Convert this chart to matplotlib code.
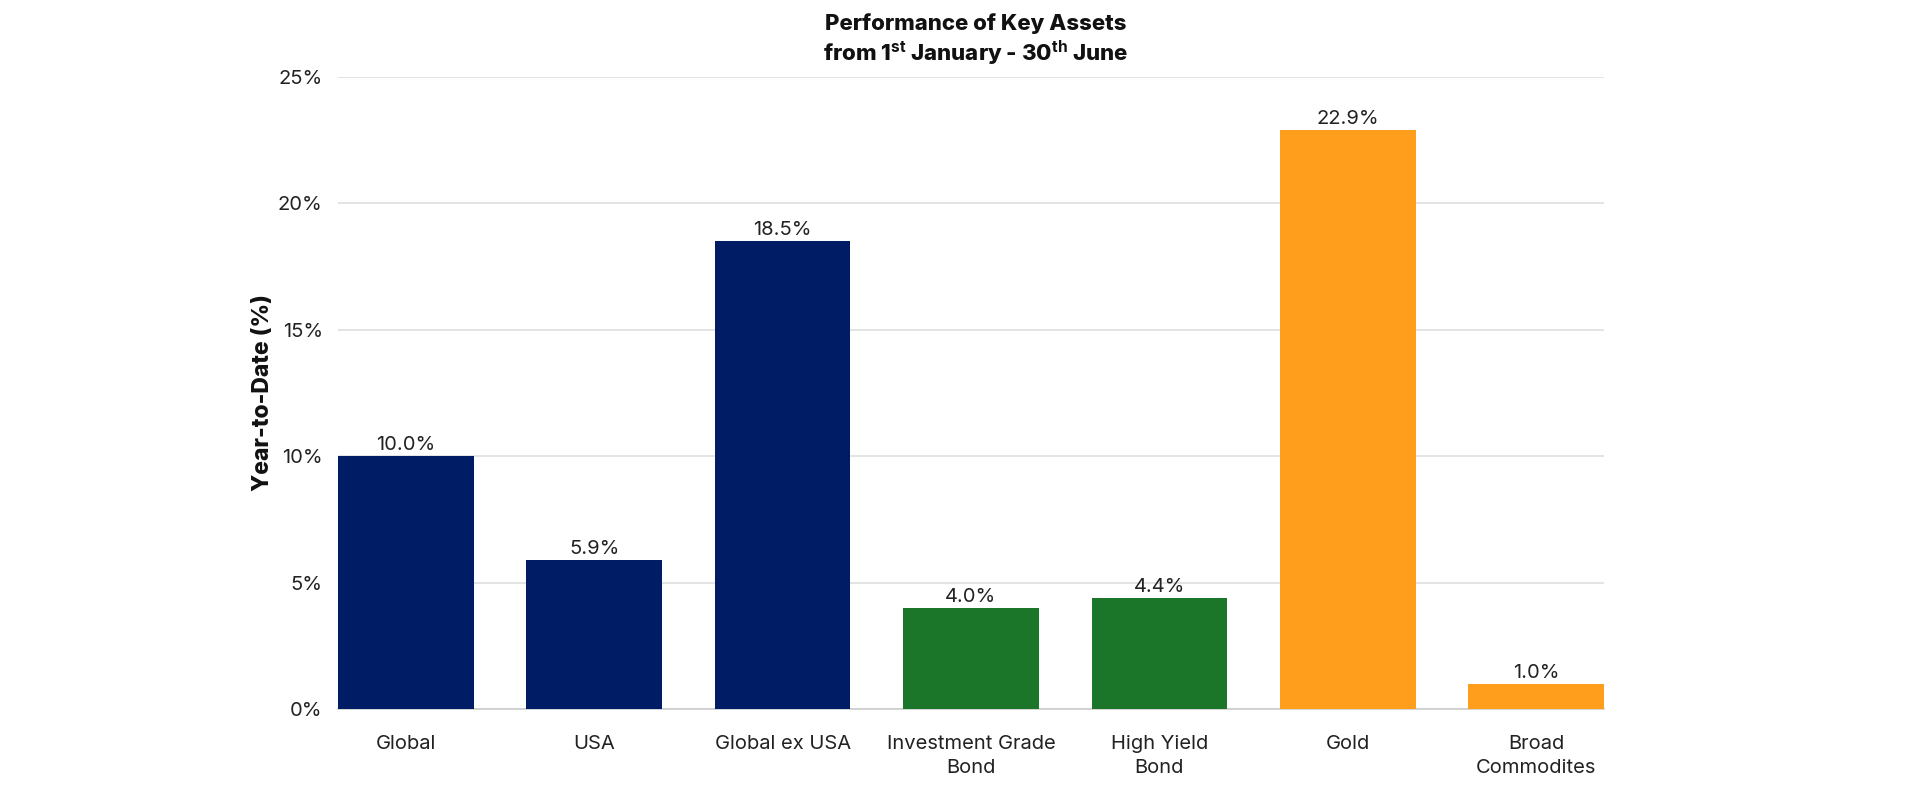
import matplotlib
matplotlib.use("Agg")
import matplotlib.pyplot as plt
from matplotlib.ticker import FuncFormatter, MultipleLocator

categories = ["Global", "USA", "Global ex USA", "Investment Grade\nBond",
              "High Yield\nBond", "Gold", "Broad\nCommodites"]
values = [10.0, 5.9, 18.5, 4.0, 4.4, 22.9, 1.0]
colors = ["#001C64", "#001C64", "#001C64", "#1B7629", "#1B7629", "#FF9D1C", "#FF9D1C"]

FONT = ["Inter", "DejaVu Sans"]
plt.rcParams["font.family"] = FONT
plt.rcParams["mathtext.fontset"] = "custom"
plt.rcParams["mathtext.bf"] = "Inter:bold"
plt.rcParams["mathtext.rm"] = "Inter"

fig = plt.figure(figsize=(19.2, 7.96), dpi=100)
ax = fig.add_axes([338/1920, 1 - 709/796, (1604-338)/1920, (709-77)/796])

x = list(range(len(categories)))
bars = ax.bar(x, values, width=0.72, color=colors, zorder=3)
for xi, v in zip(x, values):
    ax.annotate(f"{v:.1f}%", (xi, v), xytext=(0, 1.5), textcoords="offset points",
                ha="center", va="bottom", fontsize=14.5, color="#222222")

ax.set_xlim(-0.36, 6.36)
ax.set_ylim(0, 25)
ax.yaxis.set_major_locator(MultipleLocator(5))
ax.yaxis.set_major_formatter(FuncFormatter(lambda v, p: f"{v:.0f}%"))
ax.set_xticks(x)
ax.set_xticklabels(categories, fontsize=14.5, color="#222222", linespacing=1.42)
ax.tick_params(axis="x", length=0, pad=19)
ax.tick_params(axis="y", length=0, pad=11, labelsize=14.5, labelcolor="#222222")
ax.grid(axis="y", color="#DCDCDC", linewidth=1.1, zorder=0)
ax.set_axisbelow(True)
for s in ["top", "right", "left"]:
    ax.spines[s].set_visible(False)
ax.spines["bottom"].set_color("#CCCCCC")
ax.spines["bottom"].set_linewidth(1.2)
ax.set_ylabel("Year-to-Date (%)", fontsize=16.5, fontweight="heavy", labelpad=3, color="#111111")

fig.text(0.508, 1 - 24/796, "Performance of Key Assets", ha="center", va="center",
         fontsize=16, fontweight="heavy", color="#111111")
fig.text(0.508, 1 - 53/796, r"from 1$^{\mathbf{st}}$ January - 30$^{\mathbf{th}}$ June",
         ha="center", va="center", fontsize=16, fontweight="heavy", color="#111111")

fig.savefig("out.png", dpi=100)
